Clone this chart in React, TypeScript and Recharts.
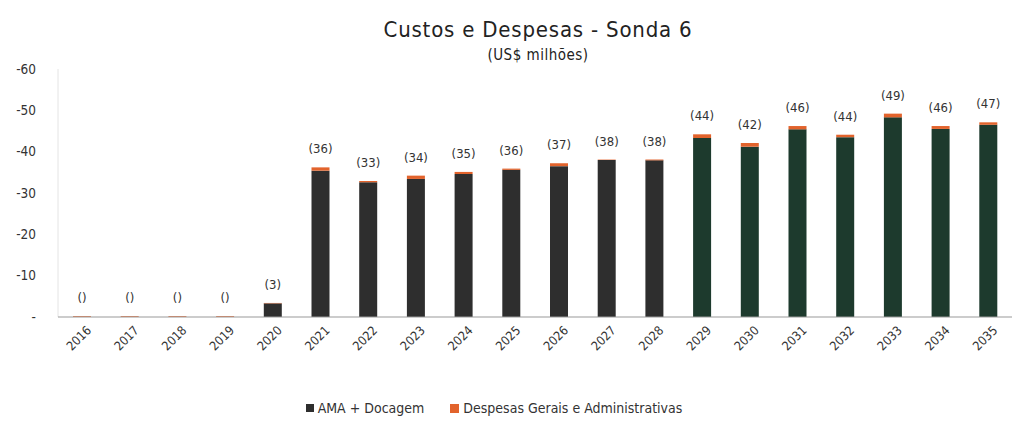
import React from 'react';
import { BarChart, Bar, XAxis, YAxis, Legend, LabelList, Cell } from 'recharts';

const years = ['2016', '2017', '2018', '2019', '2020', '2021', '2022', '2023', '2024', '2025', '2026', '2027', '2028', '2029', '2030', '2031', '2032', '2033', '2034', '2035'];
const amaDocagem = [0, 0, 0, 0, 3.3, 35.4, 32.6, 33.4, 34.6, 35.6, 36.5, 38.0, 37.9, 43.3, 41.2, 45.4, 43.5, 48.3, 45.5, 46.5];
const despesasGerais = [0.2, 0.2, 0.2, 0.2, 0.1, 0.8, 0.3, 0.8, 0.5, 0.3, 0.7, 0.1, 0.2, 0.9, 0.9, 0.8, 0.6, 0.9, 0.7, 0.6];
const totalLabels = ['()', '()', '()', '()', '(3)', '(36)', '(33)', '(34)', '(35)', '(36)', '(37)', '(38)', '(38)', '(44)', '(42)', '(46)', '(44)', '(49)', '(46)', '(47)'];
const yTicks = [0, 10, 20, 30, 40, 50, 60];

const data = years.map((y, i) => ({
  year: y,
  ama: amaDocagem[i],
  ga: despesasGerais[i],
  label: totalLabels[i]
}));

const FONT = '"DejaVu Sans Condensed", "DejaVu Sans", sans-serif';

// bars from 2029 on come out dark green in the scan
const barColor = (i: number) => (i >= 13 ? '#1d3a2d' : '#2e2e2e');

const YearTick = ({ x, y, payload }: any) => (
  <g transform={`translate(${x + 7},${y + 9}) rotate(-45)`}>
    <text textAnchor="end" dy="0.35em" fontSize={12.5} fill="#333" fontFamily={FONT}>
      {payload.value}
    </text>
  </g>
);

const LegendBox = () => (
  <div style={{ display: 'flex', justifyContent: 'center', fontFamily: FONT, fontSize: 14, color: '#333', marginLeft: -30 }}>
    <span style={{ display: 'flex', alignItems: 'center', marginRight: 26 }}>
      <span style={{ width: 8, height: 8, background: '#2e2e2e', marginRight: 4 }} />
      AMA + Docagem
    </span>
    <span style={{ display: 'flex', alignItems: 'center' }}>
      <span style={{ width: 9, height: 9, background: '#e2632c', marginRight: 4 }} />
      Despesas Gerais e Administrativas
    </span>
  </div>
);

export default function App() {
  return (
    <div style={{ position: 'absolute', left: 0, top: 0, width: 1016, height: 428, background: '#fff' }}>
      <div style={{ position: 'absolute', top: 17, left: 0, width: 1076, textAlign: 'center', fontFamily: FONT, fontSize: 22, color: '#222', letterSpacing: 0.8 }}>
        Custos e Despesas - Sonda 6
      </div>
      <div style={{ position: 'absolute', top: 46, left: 0, width: 1076, textAlign: 'center', fontFamily: FONT, fontSize: 15, color: '#222', letterSpacing: 0.5 }}>
        (US$ milhões)
      </div>
      <BarChart
        width={1016}
        height={428}
        data={data}
        margin={{ top: 69, right: 4, left: 6, bottom: 8 }}
        barSize={18}
      >
        <YAxis
          domain={[0, 60]}
          ticks={yTicks}
          width={52}
          tickSize={0}
          tickMargin={22}
          axisLine={{ stroke: '#e4e4e4' }}
          tickLine={false}
          tick={{ fontSize: 13.5, fill: '#333', fontFamily: FONT }}
          tickFormatter={(v: number) => (v === 0 ? '-' : `-${v}`)}
        />
        <XAxis
          dataKey="year"
          height={87}
          tickSize={0}
          tickLine={false}
          axisLine={{ stroke: '#999' }}
          interval={0}
          tick={<YearTick />}
        />
        <Legend verticalAlign="bottom" content={<LegendBox />} wrapperStyle={{ bottom: 12 }} />
        <Bar dataKey="ama" name="AMA + Docagem" stackId="a" fill="#2e2e2e" isAnimationActive={false}>
          {data.map((d, i) => (
            <Cell key={d.year} fill={barColor(i)} />
          ))}
        </Bar>
        <Bar dataKey="ga" name="Despesas Gerais e Administrativas" stackId="a" fill="#e2632c" isAnimationActive={false}>
          <LabelList dataKey="label" position="top" offset={14} fontSize={13} fill="#333" fontFamily={FONT} />
        </Bar>
      </BarChart>
    </div>
  );
}
